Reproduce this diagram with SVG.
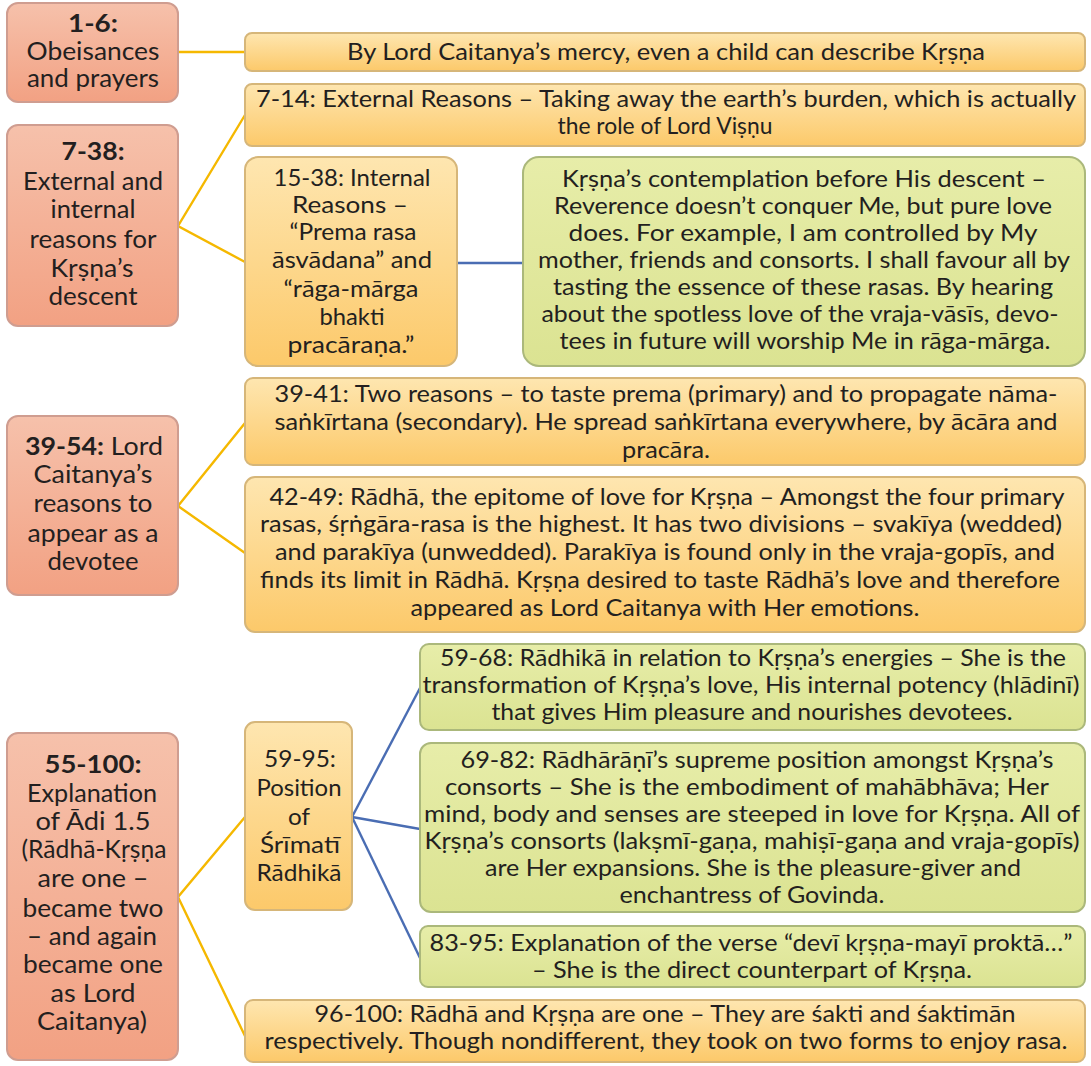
<svg xmlns="http://www.w3.org/2000/svg" width="1091" height="1066" viewBox="0 0 1091 1066">
  <defs>
    <linearGradient id="gSalmon" x1="0" y1="0" x2="0" y2="1">
      <stop offset="0" stop-color="#f6c1ab"/>
      <stop offset="1" stop-color="#f2a183"/>
    </linearGradient>
    <linearGradient id="gOrange" x1="0" y1="0" x2="0" y2="1">
      <stop offset="0" stop-color="#fee6b0"/>
      <stop offset="1" stop-color="#fcc96a"/>
    </linearGradient>
    <linearGradient id="gGreen" x1="0" y1="0" x2="0" y2="1">
      <stop offset="0" stop-color="#e7eda9"/>
      <stop offset="1" stop-color="#dbe392"/>
    </linearGradient>
    <style>
      .salmon { fill: url(#gSalmon); stroke: #cf9d90; stroke-width: 2; }
      .orange { fill: url(#gOrange); stroke: #d6b679; stroke-width: 2; }
      .green  { fill: url(#gGreen);  stroke: #abb87b; stroke-width: 2; }
      text { font-family: Lato, "Noto Sans", "DejaVu Sans", sans-serif; fill: #231f20; text-anchor: middle; }
      .lt { font-size: 24.5px; }
      .b  { font-weight: bold; }
      .t  { font-size: 23px; }
      .k  { font-size: 23.5px; }
      .yl { stroke: #f5b800; stroke-width: 2.4; fill: none; }
      .bl { stroke: #4a6db3; stroke-width: 2.4; fill: none; }
    </style>
  </defs>

  <rect width="1091" height="1066" fill="#ffffff"/>

  <!-- connectors -->
  <g id="connectors">
    <line class="yl" x1="178" y1="52" x2="245" y2="52"/>
    <polyline class="yl" points="245,115 178,226 245,262"/>
    <polyline class="yl" points="245,423 178,506 245,553"/>
    <polyline class="yl" points="245,817 178,897 245,1036"/>
    <line class="bl" x1="457" y1="263" x2="523" y2="263"/>
    <line class="bl" x1="352" y1="817" x2="420" y2="688"/>
    <line class="bl" x1="352" y1="817" x2="420" y2="829"/>
    <line class="bl" x1="352" y1="817" x2="420" y2="958"/>
  </g>

  <!-- left column: verse ranges -->
  <g id="n1-6">
    <rect class="salmon" x="7" y="3" width="171" height="99" rx="11"/>
    <text class="lt b" x="93" y="32" textLength="50" lengthAdjust="spacingAndGlyphs">1-6:</text>
    <text class="lt" x="93" y="60" textLength="133" lengthAdjust="spacingAndGlyphs">Obeisances</text>
    <text class="lt" x="93" y="87" textLength="132" lengthAdjust="spacingAndGlyphs">and prayers</text>
  </g>

  <g id="n7-38">
    <rect class="salmon" x="7" y="125" width="171" height="201" rx="11"/>
    <text class="lt b" x="93" y="160" textLength="63" lengthAdjust="spacingAndGlyphs">7-38:</text>
    <text class="lt" x="93" y="190" textLength="140" lengthAdjust="spacingAndGlyphs">External and</text>
    <text class="lt" x="93" y="218" textLength="85" lengthAdjust="spacingAndGlyphs">internal</text>
    <text class="lt" x="93" y="248" textLength="127" lengthAdjust="spacingAndGlyphs">reasons for</text>
    <text class="lt" x="92" y="277" textLength="83" lengthAdjust="spacingAndGlyphs">Kṛṣṇa’s</text>
    <text class="lt" x="93" y="305" textLength="89" lengthAdjust="spacingAndGlyphs">descent</text>
  </g>

  <g id="n39-54">
    <rect class="salmon" x="7" y="416" width="171" height="179" rx="11"/>
    <text class="lt" x="94" y="455" textLength="138" lengthAdjust="spacingAndGlyphs"><tspan class="b">39-54:</tspan> Lord</text>
    <text class="lt" x="93" y="483" textLength="119" lengthAdjust="spacingAndGlyphs">Caitanya’s</text>
    <text class="lt" x="93" y="512" textLength="119" lengthAdjust="spacingAndGlyphs">reasons to</text>
    <text class="lt" x="93" y="542" textLength="131" lengthAdjust="spacingAndGlyphs">appear as a</text>
    <text class="lt" x="93" y="570" textLength="91" lengthAdjust="spacingAndGlyphs">devotee</text>
  </g>

  <g id="n55-100">
    <rect class="salmon" x="7" y="733" width="171" height="327" rx="11"/>
    <text class="lt b" x="93" y="773" textLength="97" lengthAdjust="spacingAndGlyphs">55-100:</text>
    <text class="lt" x="92" y="802" textLength="130" lengthAdjust="spacingAndGlyphs">Explanation</text>
    <text class="lt" x="93" y="830" textLength="115" lengthAdjust="spacingAndGlyphs">of Ādi 1.5</text>
    <text class="lt" x="94" y="858" textLength="145" lengthAdjust="spacingAndGlyphs">(Rādhā-Kṛṣṇa</text>
    <text class="lt" x="93" y="887" textLength="111" lengthAdjust="spacingAndGlyphs">are one –</text>
    <text class="lt" x="93" y="917" textLength="141" lengthAdjust="spacingAndGlyphs">became two</text>
    <text class="lt" x="92" y="945" textLength="130" lengthAdjust="spacingAndGlyphs">– and again</text>
    <text class="lt" x="93" y="973" textLength="140" lengthAdjust="spacingAndGlyphs">became one</text>
    <text class="lt" x="93" y="1002" textLength="85" lengthAdjust="spacingAndGlyphs">as Lord</text>
    <text class="lt" x="92" y="1030" textLength="110" lengthAdjust="spacingAndGlyphs">Caitanya)</text>
  </g>

  <!-- second column -->
  <g id="n-mercy">
    <rect class="orange" x="245" y="33" width="840" height="38" rx="7"/>
    <text class="t" x="666" y="60" textLength="638" lengthAdjust="spacingAndGlyphs">By Lord Caitanya’s mercy, even a child can describe Kṛṣṇa</text>
  </g>

  <g id="n7-14">
    <rect class="orange" x="245" y="84" width="840" height="62" rx="7"/>
    <text class="t" x="666" y="107" textLength="820" lengthAdjust="spacingAndGlyphs">7-14: External Reasons – Taking away the earth’s burden, which is actually</text>
    <text class="t" x="665" y="134" textLength="215" lengthAdjust="spacingAndGlyphs">the role of Lord Viṣṇu</text>
  </g>

  <g id="n15-38">
    <rect class="orange" x="245" y="157" width="212" height="209" rx="13"/>
    <text class="t" x="352" y="186" textLength="157" lengthAdjust="spacingAndGlyphs">15-38: Internal</text>
    <text class="t" x="350" y="213" textLength="116" lengthAdjust="spacingAndGlyphs">Reasons –</text>
    <text class="t" x="353" y="240" textLength="127" lengthAdjust="spacingAndGlyphs">“Prema rasa</text>
    <text class="t" x="352" y="268" textLength="160" lengthAdjust="spacingAndGlyphs">āsvādana” and</text>
    <text class="t" x="351" y="297" textLength="135" lengthAdjust="spacingAndGlyphs">“rāga-mārga</text>
    <text class="t" x="352" y="325" textLength="65" lengthAdjust="spacingAndGlyphs">bhakti</text>
    <text class="t" x="351" y="353" textLength="127" lengthAdjust="spacingAndGlyphs">pracāraṇa.”</text>
  </g>

  <g id="n-contemplation">
    <rect class="green" x="523" y="157" width="562" height="209" rx="16"/>
    <text class="t" x="804" y="187" textLength="484" lengthAdjust="spacingAndGlyphs">Kṛṣṇa’s contemplation before His descent –</text>
    <text class="t" x="803" y="214" textLength="498" lengthAdjust="spacingAndGlyphs">Reverence doesn’t conquer Me, but pure love</text>
    <text class="t" x="803" y="241" textLength="469" lengthAdjust="spacingAndGlyphs">does. For example, I am controlled by My</text>
    <text class="t" x="804" y="268" textLength="532" lengthAdjust="spacingAndGlyphs">mother, friends and consorts. I shall favour all by</text>
    <text class="t" x="803" y="295" textLength="500" lengthAdjust="spacingAndGlyphs">tasting the essence of these rasas. By hearing</text>
    <text class="t" x="800" y="322" textLength="517" lengthAdjust="spacingAndGlyphs">about the spotless love of the vraja-vāsīs, devo-</text>
    <text class="t" x="805" y="349" textLength="491" lengthAdjust="spacingAndGlyphs">tees in future will worship Me in rāga-mārga.</text>
  </g>

  <g id="n39-41">
    <rect class="orange" x="245" y="378" width="840" height="87" rx="8"/>
    <text class="t" x="666" y="402" textLength="783" lengthAdjust="spacingAndGlyphs">39-41: Two reasons – to taste prema (primary) and to propagate nāma-</text>
    <text class="t" x="666" y="430" textLength="783" lengthAdjust="spacingAndGlyphs">saṅkīrtana (secondary). He spread saṅkīrtana everywhere, by ācāra and</text>
    <text class="t" x="666" y="458" textLength="88" lengthAdjust="spacingAndGlyphs">pracāra.</text>
  </g>

  <g id="n42-49">
    <rect class="orange" x="245" y="477" width="840" height="155" rx="10"/>
    <text class="t" x="667" y="505" textLength="795" lengthAdjust="spacingAndGlyphs">42-49: Rādhā, the epitome of love for Kṛṣṇa – Amongst the four primary</text>
    <text class="t" x="661" y="532" textLength="802" lengthAdjust="spacingAndGlyphs">rasas, śṛṅgāra-rasa is the highest. It has two divisions – svakīya (wedded)</text>
    <text class="t" x="665" y="560" textLength="780" lengthAdjust="spacingAndGlyphs">and parakīya (unwedded). Parakīya is found only in the vraja-gopīs, and</text>
    <text class="t" x="660" y="588" textLength="800" lengthAdjust="spacingAndGlyphs">finds its limit in Rādhā. Kṛṣṇa desired to taste Rādhā’s love and therefore</text>
    <text class="t" x="665" y="616" textLength="509" lengthAdjust="spacingAndGlyphs">appeared as Lord Caitanya with Her emotions.</text>
  </g>

  <g id="n59-95">
    <rect class="orange" x="245" y="722" width="107" height="188" rx="10"/>
    <text class="k" x="300" y="767" textLength="72" lengthAdjust="spacingAndGlyphs">59-95:</text>
    <text class="k" x="299" y="796" textLength="85" lengthAdjust="spacingAndGlyphs">Position</text>
    <text class="k" x="299" y="825" textLength="22" lengthAdjust="spacingAndGlyphs">of</text>
    <text class="k" x="300" y="853" textLength="80" lengthAdjust="spacingAndGlyphs">Śrīmatī</text>
    <text class="k" x="299" y="881" textLength="85" lengthAdjust="spacingAndGlyphs">Rādhikā</text>
  </g>

  <!-- third column: aspects of Rādhikā -->
  <g id="n59-68">
    <rect class="green" x="420" y="644" width="665" height="86" rx="9"/>
    <text class="t" x="753" y="666" textLength="626" lengthAdjust="spacingAndGlyphs">59-68: Rādhikā in relation to Kṛṣṇa’s energies – She is the</text>
    <text class="t" x="751" y="693" textLength="657" lengthAdjust="spacingAndGlyphs">transformation of Kṛṣṇa’s love, His internal potency (hlādinī)</text>
    <text class="t" x="752" y="720" textLength="521" lengthAdjust="spacingAndGlyphs">that gives Him pleasure and nourishes devotees.</text>
  </g>

  <g id="n69-82">
    <rect class="green" x="420" y="743" width="665" height="169" rx="11"/>
    <text class="t" x="757" y="768" textLength="593" lengthAdjust="spacingAndGlyphs">69-82: Rādhārāṇī’s supreme position amongst Kṛṣṇa’s</text>
    <text class="t" x="747" y="795" textLength="604" lengthAdjust="spacingAndGlyphs">consorts – She is the embodiment of mahābhāva; Her</text>
    <text class="t" x="752" y="822" textLength="656" lengthAdjust="spacingAndGlyphs">mind, body and senses are steeped in love for Kṛṣṇa. All of</text>
    <text class="t" x="752" y="849" textLength="655" lengthAdjust="spacingAndGlyphs">Kṛṣṇa’s consorts (lakṣmī-gaṇa, mahiṣī-gaṇa and vraja-gopīs)</text>
    <text class="t" x="753" y="876" textLength="536" lengthAdjust="spacingAndGlyphs">are Her expansions. She is the pleasure-giver and</text>
    <text class="t" x="752" y="903" textLength="265" lengthAdjust="spacingAndGlyphs">enchantress of Govinda.</text>
  </g>

  <g id="n83-95">
    <rect class="green" x="420" y="926" width="665" height="61" rx="8"/>
    <text class="t" x="751" y="951" textLength="643" lengthAdjust="spacingAndGlyphs">83-95: Explanation of the verse “devī kṛṣṇa-mayī proktā…”</text>
    <text class="t" x="752" y="978" textLength="440" lengthAdjust="spacingAndGlyphs">– She is the direct counterpart of Kṛṣṇa.</text>
  </g>

  <g id="n96-100">
    <rect class="orange" x="245" y="1000" width="840" height="62" rx="8"/>
    <text class="t" x="665" y="1022" textLength="701" lengthAdjust="spacingAndGlyphs">96-100: Rādhā and Kṛṣṇa are one – They are śakti and śaktimān</text>
    <text class="t" x="666" y="1049" textLength="803" lengthAdjust="spacingAndGlyphs">respectively. Though nondifferent, they took on two forms to enjoy rasa.</text>
  </g>
</svg>
